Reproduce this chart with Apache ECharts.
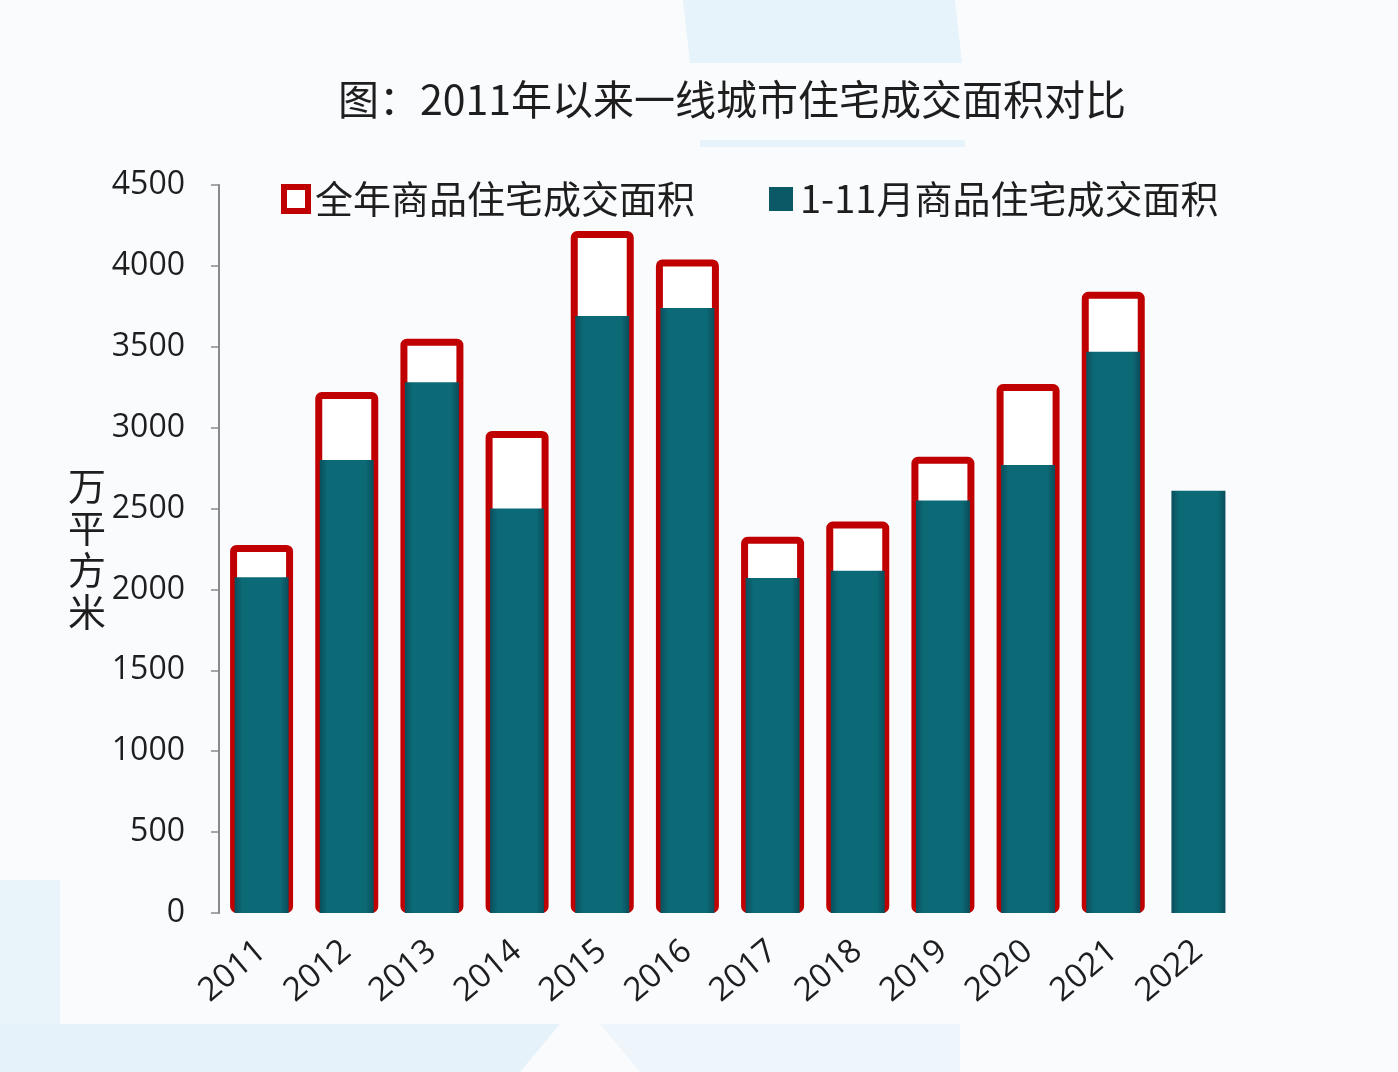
<!DOCTYPE html>
<html>
<head>
<meta charset="utf-8">
<script src="https://cdn.jsdelivr.net/npm/echarts@6/dist/echarts.min.js"></script>
<style>
html,body{margin:0;padding:0;background:#fafbfd;}
#chart{width:1398px;height:1072px;}
</style>
</head>
<body>
<div id="chart"></div>
<script>
const titleText = '图：2011年以来一线城市住宅成交面积对比';
const years = ['2011','2012','2013','2014','2015','2016','2017','2018','2019','2020','2021','2022'];
const fullYearName = '全年商品住宅成交面积';
const janNovName = '1-11月商品住宅成交面积';
const fullYear = [2275, 3220, 3550, 2980, 4215, 4040, 2325, 2420, 2820, 3270, 3840, null];
const janNov = [2075, 2800, 3280, 2500, 3690, 3740, 2070, 2115, 2550, 2770, 3470, 2610];
const yTicks = {min: 0, max: 4500, interval: 500};
const yUnit = '万\n平\n方\n米';

const chart = echarts.init(document.getElementById('chart'), null, {renderer: 'canvas'});
const numFont = '"Open Sans", "Noto Sans", sans-serif';
const cjkFont = '"Noto Sans CJK SC", "Noto Sans", sans-serif';

chart.setOption({
  backgroundColor: '#fafbfd',
  animation: false,
  graphic: [
    {type: 'polygon', z: -10, shape: {points: [[683,0],[955,0],[962,63],[690,63]]}, style: {fill: '#e6f3fb'}},
    {type: 'rect', z: -10, shape: {x: 700, y: 140, width: 265, height: 7}, style: {fill: '#e6f3fb'}},
    {type: 'rect', z: -10, shape: {x: 0, y: 880, width: 60, height: 192}, style: {fill: '#e8f3fa'}},
    {type: 'polygon', z: -10, shape: {points: [[0,1024],[560,1024],[520,1072],[0,1072]]}, style: {fill: '#e6f2fa'}},
    {type: 'polygon', z: -10, shape: {points: [[600,1024],[960,1024],[960,1072],[640,1072]]}, style: {fill: '#eef6fb'}}
  ],
  title: {
    text: titleText,
    left: 333,
    top: 74,
    textStyle: {fontFamily: cjkFont, fontSize: 41, fontWeight: 'normal', color: '#1e1e1e'}
  },
  legend: {
    left: 276,
    top: 175,
    itemWidth: 24,
    itemHeight: 24,
    itemGap: 74,
    textStyle: {fontFamily: cjkFont, fontSize: 38, color: '#1e1e1e', padding: [0,0,0,2]},
    data: [
      {name: fullYearName, icon: 'rect', itemStyle: {color: '#ffffff', borderColor: '#c00000', borderWidth: 6}},
      {name: janNovName, icon: 'rect', itemStyle: {color: '#0b5866', borderWidth: 0}}
    ]
  },
  grid: {left: 219, right: 157, top: 185, bottom: 159, containLabel: false},
  xAxis: [
    {
      type: 'category',
      data: years,
      axisLine: {show: false},
      axisTick: {show: false},
      axisLabel: {rotate: 40, margin: 34, fontFamily: numFont, fontSize: 33, color: '#1e1e1e'}
    },
    {
      type: 'category',
      data: years,
      show: false
    }
  ],
  yAxis: {
    type: 'value',
    min: yTicks.min,
    max: yTicks.max,
    interval: yTicks.interval,
    name: yUnit,
    nameLocation: 'middle',
    nameRotate: 0,
    nameGap: 100,
    nameTextStyle: {fontFamily: cjkFont, fontSize: 38, color: '#1e1e1e', lineHeight: 42, align: 'right'},
    axisLine: {show: true, lineStyle: {color: '#8a8a8a', width: 2}},
    axisTick: {show: true, length: 8, lineStyle: {color: '#8a8a8a', width: 1.5}},
    splitLine: {show: false},
    axisLabel: {margin: 34, fontFamily: numFont, fontSize: 32, color: '#1e1e1e', formatter: function (v) { return String(v); }}
  },
  series: [
    {
      name: fullYearName,
      type: 'bar',
      xAxisIndex: 0,
      data: fullYear,
      barWidth: 63,
      itemStyle: {color: '#ffffff', borderColor: '#c00000', borderWidth: 7, borderRadius: 3}
    },
    {
      name: janNovName,
      type: 'bar',
      xAxisIndex: 1,
      data: janNov,
      barWidth: 54,
      itemStyle: {
        color: new echarts.graphic.LinearGradient(0, 0, 1, 0, [
          {offset: 0, color: '#0a4f5c'},
          {offset: 0.15, color: '#0c6a77'},
          {offset: 0.85, color: '#0c6a77'},
          {offset: 1, color: '#0a4c59'}
        ])
      }
    }
  ]
});
</script>
</body>
</html>
